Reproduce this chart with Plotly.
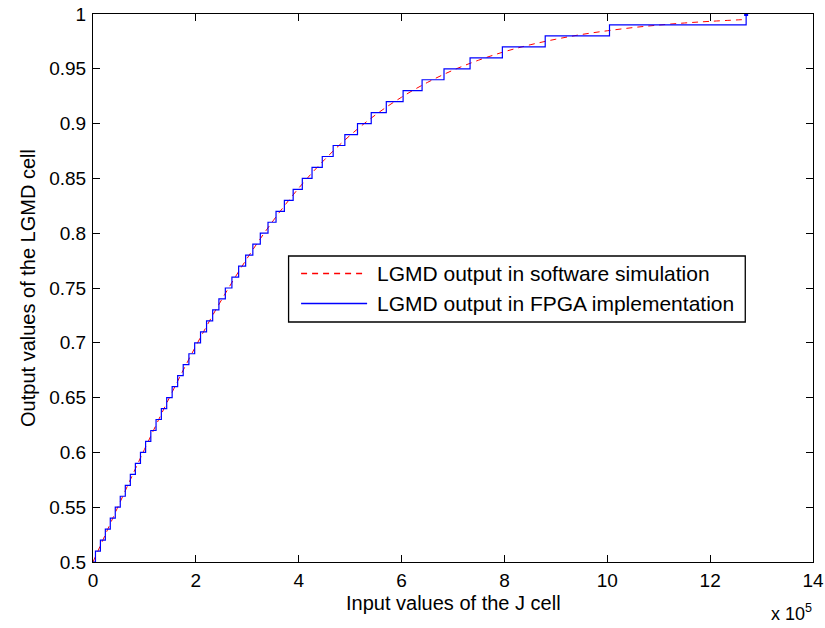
import plotly.graph_objects as go

# Software simulation (x in units of 1e5)
sw_x = [0, 0.5, 1, 1.5, 2, 2.5, 3, 3.5, 4, 4.5, 5, 5.5, 6, 6.5, 7, 7.5, 8, 8.5,
        9, 9.5, 10, 10.5, 11, 11.5, 12, 12.7]
sw_y = [0.5, 0.5519, 0.6027, 0.6513, 0.6971, 0.7392, 0.7773, 0.8112, 0.8411,
        0.8670, 0.8893, 0.9082, 0.9241, 0.9375, 0.9487, 0.9579, 0.9656, 0.9719,
        0.9770, 0.9813, 0.9847, 0.9876, 0.9899, 0.9918, 0.9933, 0.9950]

# FPGA implementation: step positions (x in units of 1e5) and levels
fpga_x = [0, 0.048, 0.144, 0.240, 0.336, 0.433, 0.530, 0.628, 0.726, 0.824, 0.923,
          1.023, 1.124, 1.226, 1.329, 1.433, 1.539, 1.646, 1.754, 1.865, 1.977,
          2.091, 2.208, 2.327, 2.448, 2.573, 2.701, 2.832, 2.968, 3.108, 3.253,
          3.403, 3.559, 3.721, 3.892, 4.070, 4.259, 4.458, 4.670, 4.897, 5.143,
          5.410, 5.703, 6.030, 6.399, 6.825, 7.332, 7.960, 8.793, 10.043, 12.7]
fpga_y = [0.50, 0.51, 0.52, 0.53, 0.54, 0.55, 0.56, 0.57, 0.58, 0.59, 0.60,
          0.61, 0.62, 0.63, 0.64, 0.65, 0.66, 0.67, 0.68, 0.69, 0.70,
          0.71, 0.72, 0.73, 0.74, 0.75, 0.76, 0.77, 0.78, 0.79, 0.80,
          0.81, 0.82, 0.83, 0.84, 0.85, 0.86, 0.87, 0.88, 0.89, 0.90,
          0.91, 0.92, 0.93, 0.94, 0.95, 0.96, 0.97, 0.98, 0.99, 1.00]

x_ticks = [0, 2, 4, 6, 8, 10, 12, 14]
y_ticks = [0.5, 0.55, 0.6, 0.65, 0.7, 0.75, 0.8, 0.85, 0.9, 0.95, 1]
y_ticklabels = ["0.5", "0.55", "0.6", "0.65", "0.7", "0.75", "0.8", "0.85", "0.9", "0.95", "1"]
legend_names = ["LGMD output in software simulation", "LGMD output in FPGA implementation"]
x_title = "Input values of the J cell"
y_title = "Output values of the LGMD cell"

FONT = "Liberation Sans, Arial, sans-serif"
W, H = 825, 628
# plot area in window pixels: x 93..812.7, y 14..562
X0, X1, Y0, Y1 = 93, 812.7, 14, 562
L, R, T, B = X0, W - X1, Y0, H - Y1


def px(X):
    return (X - X0) / (X1 - X0)


def py(Y):
    return (Y1 - Y) / (Y1 - Y0)


RED_DASH = "6px,5px"

fig = go.Figure()
fig.add_trace(go.Scatter(
    x=sw_x, y=sw_y, mode="lines", name=legend_names[0], showlegend=False,
    line=dict(color="red", width=1, dash=RED_DASH, shape="spline")))
fig.add_trace(go.Scatter(
    x=fpga_x, y=fpga_y, mode="lines", name=legend_names[1], showlegend=False,
    line=dict(color="blue", width=1.2, shape="hv")))
fig.add_trace(go.Scatter(
    x=fpga_x[-1:], y=fpga_y[-1:], mode="markers", showlegend=False,
    marker=dict(color="blue", size=4, symbol="square")))

axis_common = dict(
    showgrid=False, zeroline=False, showline=True, linecolor="black", linewidth=1,
    mirror="ticks", ticks="inside", ticklen=7, tickcolor="black", automargin=False,
    tickfont=dict(family=FONT, size=19, color="black"))

fig.update_xaxes(range=[0, 14], tickvals=x_ticks, ticktext=[str(v) for v in x_ticks],
                 ticklabelstandoff=1, **axis_common)
fig.update_yaxes(range=[0.5, 1], tickvals=y_ticks, ticktext=y_ticklabels,
                 ticklabelstandoff=2,
                 title=dict(text=y_title,
                            font=dict(family=FONT, size=20, color="black"), standoff=8),
                 **axis_common)

# x axis title
fig.add_annotation(xref="paper", yref="paper", x=0.5, y=py(603), xanchor="center", yanchor="middle",
                   text=x_title, showarrow=False,
                   font=dict(family=FONT, size=20, color="black"))

# overlay axes in window-pixel units (for the drawn legend box)
fig.update_layout(
    xaxis2=dict(overlaying="x", range=[X0, X1], visible=False, fixedrange=True),
    yaxis2=dict(overlaying="y", range=[Y1, Y0], visible=False, fixedrange=True),
)

LEG_L, LEG_R, LEG_T, LEG_B = 288.5, 745, 256, 322
fig.add_shape(type="rect", xref="x2", yref="y2",
              x0=LEG_L, x1=LEG_R, y0=LEG_B, y1=LEG_T,
              line=dict(color="black", width=1.3), fillcolor="white", layer="below")
fig.add_trace(go.Scatter(x=[301, 367], y=[273.5, 273.5], xaxis="x2", yaxis="y2",
                         mode="lines", showlegend=False, hoverinfo="skip",
                         line=dict(color="#ff0000", width=1.3, dash=RED_DASH)))
fig.add_trace(go.Scatter(x=[301, 367], y=[303.5, 303.5], xaxis="x2", yaxis="y2",
                         mode="lines", showlegend=False, hoverinfo="skip",
                         line=dict(color="#0000ff", width=1.3)))
for name, yy in zip(legend_names, [273.5, 303.5]):
    fig.add_annotation(xref="x2", yref="y2", x=375, y=yy,
                       xanchor="left", yanchor="middle", text=name, showarrow=False,
                       font=dict(family=FONT, size=21, color="black"))

# exponent label
fig.add_annotation(xref="paper", yref="paper", x=px(769), y=py(612), xanchor="left", yanchor="middle",
                   text="x 10<sup>5</sup>", showarrow=False,
                   font=dict(family=FONT, size=18, color="black"))

fig.update_layout(
    width=W, height=H,
    margin=dict(l=L, r=R, t=T, b=B, pad=0),
    paper_bgcolor="white", plot_bgcolor="white",
    showlegend=False,
)

fig.write_html("out.html", config={"displayModeBar": False},
               post_script="document.body.style.margin='0';document.body.style.padding='0';"
                           "document.body.style.overflow='hidden';")
